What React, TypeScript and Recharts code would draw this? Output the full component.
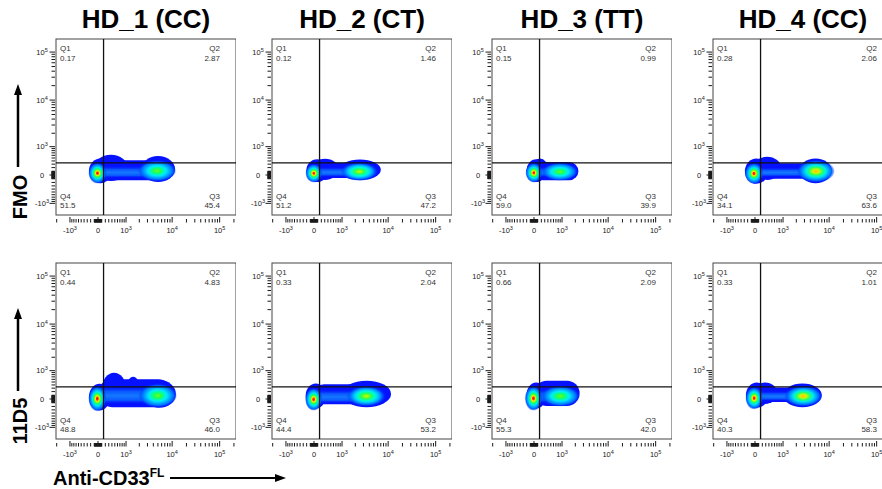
import React from 'react';
import { ComposedChart, XAxis, YAxis, ReferenceArea, ReferenceLine } from 'recharts';

// biexponential-like display transform (asinh, cofactor 550)
const COFACTOR = 550;
const T = (v: number) => Math.asinh(v / COFACTOR) / Math.LN10;

const DONORS = ['HD_1 (CC)', 'HD_2 (CT)', 'HD_3 (TT)', 'HD_4 (CC)'];
const STAINS = ['FMO', '11D5'];

// quadrant frequencies [Q1, Q2, Q3, Q4]
const FMO_QUADS = [
  ['0.17', '2.87', '45.4', '51.5'],
  ['0.12', '1.46', '47.2', '51.2'],
  ['0.15', '0.99', '39.9', '59.0'],
  ['0.28', '2.06', '63.6', '34.1'],
];
const D11D5_QUADS = [
  ['0.44', '4.83', '46.0', '48.8'],
  ['0.33', '2.04', '53.2', '44.4'],
  ['0.66', '2.09', '42.0', '55.3'],
  ['0.33', '1.01', '58.3', '40.3'],
];

const GATE_X = 150;
const GATE_Y = 340;

const MAJOR_TICKS = [-1000, 0, 1000, 10000, 100000];
const TICK_BASE = ['-10', '0', '10', '10', '10'];
const TICK_EXP = ['3', '', '3', '4', '5'];
const MINOR_MULT = [1, 2, 3, 4, 5, 6, 7, 8, 9];
const MINOR_DECADES = [10, 100, 1000, 10000, 100000];

// density regions: [kind, xLow, xHigh, yLow, yHigh] in fluorescence units
const HD1_FMO = [
  ['lobe', -250, 400, -220, 480],
  ['lobe', -110, 1110, -160, 620],
  ['bar', 0, 9000, -140, 420],
  ['lobe', 2200, 11500, -190, 570],
  ['mid', 0, 3900, -80, 250],
  ['neg', -260, 230, -230, 340],
  ['pos', 1900, 12000, -170, 420],
];
const HD2_FMO = [
  ['lobe', -210, 400, -190, 460],
  ['lobe', -80, 840, -130, 470],
  ['bar', 0, 1870, -80, 340],
  ['lobe', 850, 7000, -140, 450],
  ['mid', 0, 1450, -50, 220],
  ['neg', -230, 220, -200, 300],
  ['pos', 950, 6000, -150, 350],
];
const HD3_FMO = [
  ['lobe', -210, 340, -190, 455],
  ['lobe', -50, 400, -130, 485],
  ['bar', 0, 2330, -140, 365],
  ['mid', 0, 440, -50, 220],
  ['neg', -230, 220, -200, 330],
  ['pos', 220, 2250, -150, 340],
];
const HD4_FMO = [
  ['lobe', -280, 370, -240, 480],
  ['lobe', -50, 900, -130, 550],
  ['bar', 0, 8200, -100, 325],
  ['lobe', 2300, 11500, -220, 480],
  ['mid', 0, 3900, -50, 205],
  ['neg', -280, 220, -240, 330],
  ['pos', 2100, 13000, -200, 430],
];
const HD1_11D5 = [
  ['lobe', -250, 340, -320, 440],
  ['lobe', 110, 1000, -130, 890],
  ['lobe', 1000, 2100, -130, 710],
  ['bar', 0, 10000, -220, 600],
  ['lobe', 2400, 12000, -240, 570],
  ['mid', 0, 3400, -130, 370],
  ['neg', -260, 220, -340, 360],
  ['pos', 1950, 12500, -230, 440],
];
const HD2_11D5 = [
  ['lobe', -230, 340, -260, 450],
  ['bar', 0, 5000, -140, 420],
  ['lobe', 1000, 11500, -220, 550],
  ['mid', 0, 1870, -110, 260],
  ['neg', -240, 220, -320, 300],
  ['pos', 1300, 8800, -200, 370],
];
const HD3_11D5 = [
  ['lobe', -210, 340, -260, 480],
  ['bar', 0, 2480, -190, 550],
  ['mid', 0, 440, -110, 280],
  ['neg', -250, 220, -320, 360],
  ['pos', 200, 2450, -200, 370],
];
const HD4_11D5 = [
  ['lobe', -250, 370, -240, 480],
  ['lobe', -50, 710, -130, 485],
  ['bar', 0, 3080, -80, 320],
  ['lobe', 1000, 7000, -220, 450],
  ['mid', 0, 1700, -50, 220],
  ['neg', -260, 210, -280, 330],
  ['pos', 1100, 7000, -200, 370],
];

// peak density level of the CD33+ population
const FMO_PEAK = ['green', 'lime', 'green', 'yellow'];
const D11D5_PEAK = ['green', 'lime', 'green', 'yellow'];

const BLOBS = [
  [HD1_FMO, HD2_FMO, HD3_FMO, HD4_FMO],
  [HD1_11D5, HD2_11D5, HD3_11D5, HD4_11D5],
];
const QUADS = [FMO_QUADS, D11D5_QUADS];
const PEAKS = [FMO_PEAK, D11D5_PEAK];

const COL_LEFT = [56, 272, 492, 713];
const ROW_TOP = [39, 263];
const BOX_W = 180;
const X_DOMAIN: [number, number] = [-0.884, 2.905];
const Y_DOMAIN: [number, number] = [-0.833, 2.833];
const BLUE = '#0612ff';
const INK = '#1a1a1a';
const FONT = '"Liberation Sans", Arial, Helvetica, sans-serif';

function axisTicks(dom: [number, number]) {
  const vals: number[] = [...MAJOR_TICKS];
  MINOR_DECADES.forEach(d =>
    MINOR_MULT.forEach(m => {
      [m * d, -m * d].forEach(v => {
        if (!MAJOR_TICKS.includes(v)) vals.push(v);
      });
    })
  );
  return vals.map(T).filter(t => t >= dom[0] && t <= dom[1]);
}

const majorIndex = (t: number) => MAJOR_TICKS.findIndex(v => Math.abs(T(v) - t) < 1e-6);

const XTick = (p: any) => {
  const { x, y, payload } = p;
  const i = majorIndex(payload.value);
  const major = i >= 0;
  return (
    <g>
      <line x1={x} x2={x} y1={y + (major ? 2 : 4)} y2={y + 7.5} stroke={INK} strokeWidth={1} />
      {major && (
        <text x={x} y={y + 18} textAnchor="middle" fontSize={7.5} fill={INK}>
          {TICK_BASE[i]}
          {TICK_EXP[i] && <tspan dy={-3} fontSize={5.5}>{TICK_EXP[i]}</tspan>}
        </text>
      )}
    </g>
  );
};

const YTick = (p: any) => {
  const { x, y, payload } = p;
  const i = majorIndex(payload.value);
  const major = i >= 0;
  return (
    <g>
      <line x1={x - (major ? 6.5 : 4.5)} x2={x - 1} y1={y} y2={y} stroke={INK} strokeWidth={1} />
      {major && (
        <text x={x - 14} y={y + 2.5} textAnchor="middle" fontSize={7.5} fill={INK}>
          {TICK_BASE[i]}
          {TICK_EXP[i] && <tspan dy={-3} fontSize={5.5}>{TICK_EXP[i]}</tspan>}
        </text>
      )}
    </g>
  );
};

const blobShape = (kind: string, peak: string) => (p: any) => {
  const { x, y, width: w, height: h } = p;
  if (kind === 'bar') return <rect x={x} y={y} width={w} height={h} rx={h / 2} ry={h / 2} fill={BLUE} />;
  if (kind === 'mid') return <rect x={x} y={y} width={w} height={h} rx={h / 2} ry={h / 2} fill="url(#g-mid)" />;
  const fill = kind === 'lobe' ? BLUE : kind === 'neg' ? 'url(#g-red)' : `url(#g-${peak})`;
  return <ellipse cx={x + w / 2} cy={y + h / 2} rx={w / 2} ry={h / 2} fill={fill} />;
};

const boxShape = (q: string[]) => (p: any) => {
  const { x, y, width: w, height: h } = p;
  const t = { fontSize: 8, fill: '#333' };
  return (
    <g>
      <rect x={x} y={y} width={w} height={h} fill="none" stroke="#444" strokeWidth={1} />
      <text {...t} x={x + 4} y={y + 12}>Q1</text>
      <text {...t} x={x + 4} y={y + 22}>{q[0]}</text>
      <text {...t} x={x + w - 16} y={y + 12} textAnchor="end">Q2</text>
      <text {...t} x={x + w - 16} y={y + 22} textAnchor="end">{q[1]}</text>
      <text {...t} x={x + w - 16} y={y + h - 16} textAnchor="end">Q3</text>
      <text {...t} x={x + w - 16} y={y + h - 7} textAnchor="end">{q[2]}</text>
      <text {...t} x={x + 4} y={y + h - 16}>Q4</text>
      <text {...t} x={x + 4} y={y + h - 7}>{q[3]}</text>
    </g>
  );
};

function Panel({ blobs, quads, peak, left, top }: any) {
  return (
    <div style={{ position: 'absolute', left: left - 40, top: top - 5 }}>
      <ComposedChart width={220} height={206} margin={{ top: 5, right: 0, bottom: 0, left: 0 }}>
        <XAxis
          type="number"
          dataKey="x"
          domain={X_DOMAIN}
          allowDataOverflow
          ticks={axisTicks(X_DOMAIN)}
          interval={0}
          tick={XTick}
          tickSize={0}
          tickMargin={0}
          tickLine={false}
          axisLine={false}
          height={25}
        />
        <YAxis
          type="number"
          domain={Y_DOMAIN}
          allowDataOverflow
          ticks={axisTicks(Y_DOMAIN)}
          interval={0}
          tick={YTick}
          tickSize={0}
          tickMargin={0}
          tickLine={false}
          axisLine={false}
          width={40}
        />
        {blobs.map((b: any[], i: number) => (
          <ReferenceArea
            key={i}
            x1={T(b[1])}
            x2={T(b[2])}
            y1={T(b[3])}
            y2={T(b[4])}
            shape={blobShape(b[0], peak)}
          />
        ))}
        <ReferenceLine x={T(GATE_X)} stroke="#111" strokeWidth={1.3} />
        <ReferenceLine y={T(GATE_Y)} stroke="#111" strokeWidth={1.3} />
        <ReferenceArea x1={X_DOMAIN[0]} x2={X_DOMAIN[1]} y1={Y_DOMAIN[0]} y2={Y_DOMAIN[1]} shape={boxShape(quads)} />
      </ComposedChart>
    </div>
  );
}

const stop = (o: number, c: string, a = 1) => <stop key={o} offset={o} stopColor={c} stopOpacity={a} />;

export default function App() {
  return (
    <div
      style={{
        position: 'absolute',
        left: 0,
        top: 0,
        width: 882,
        height: 489,
        overflow: 'hidden',
        background: '#fff',
        fontFamily: FONT,
      }}
    >
      <svg width={0} height={0} style={{ position: 'absolute' }}>
        <defs>
          <radialGradient id="g-red">
            {[
              stop(0, '#ff0000'),
              stop(0.11, '#ff2a00'),
              stop(0.21, '#ffe800'),
              stop(0.32, '#70ff20'),
              stop(0.44, '#00ff80'),
              stop(0.56, '#00e8f0'),
              stop(0.7, '#00a8ff'),
              stop(0.86, '#0064ff'),
              stop(1, '#0030ff', 0.3),
            ]}
          </radialGradient>
          <radialGradient id="g-green">
            {[
              stop(0, '#70ff30'),
              stop(0.16, '#30ff40'),
              stop(0.32, '#00ffa0'),
              stop(0.48, '#00e8ff'),
              stop(0.64, '#00b0ff'),
              stop(0.82, '#0070ff'),
              stop(1, '#0030ff', 0.15),
            ]}
          </radialGradient>
          <radialGradient id="g-lime">
            {[
              stop(0, '#c8ff00'),
              stop(0.13, '#88ff10'),
              stop(0.28, '#20ff60'),
              stop(0.44, '#00ffc8'),
              stop(0.6, '#00d0ff'),
              stop(0.78, '#0080ff'),
              stop(1, '#0030ff', 0.15),
            ]}
          </radialGradient>
          <radialGradient id="g-yellow">
            {[
              stop(0, '#ff9000'),
              stop(0.09, '#ffe000'),
              stop(0.22, '#a0ff10'),
              stop(0.37, '#20ff70'),
              stop(0.52, '#00f0e0'),
              stop(0.67, '#00b0ff'),
              stop(0.84, '#0068ff'),
              stop(1, '#0030ff', 0.15),
            ]}
          </radialGradient>
          <linearGradient id="g-mid" x1="0" y1="0" x2="0" y2="1">
            {[
              stop(0, '#0020ff', 0),
              stop(0.3, '#0a58ff'),
              stop(0.55, '#1478ff'),
              stop(0.8, '#0a58ff'),
              stop(1, '#0020ff', 0),
            ]}
          </linearGradient>
        </defs>
      </svg>

      {STAINS.map((s, r) =>
        DONORS.map((d, c) => (
          <Panel
            key={s + d}
            blobs={BLOBS[r][c]}
            quads={QUADS[r][c]}
            peak={PEAKS[r][c]}
            left={COL_LEFT[c]}
            top={ROW_TOP[r]}
          />
        ))
      )}

      <svg width={882} height={489} style={{ position: 'absolute', left: 0, top: 0, pointerEvents: 'none' }}>
        {DONORS.map((d, c) => (
          <text key={d} x={COL_LEFT[c] + BOX_W / 2} y={28} textAnchor="middle" fontSize={26} fontWeight="bold" fill="#000">
            {d}
          </text>
        ))}
        {STAINS.map((s, r) => {
          const mid = ROW_TOP[r] + 158;
          const tip = ROW_TOP[r] + 45;
          const base = ROW_TOP[r] + 128;
          return (
            <g key={s}>
              <text
                x={27}
                y={mid}
                transform={`rotate(-90 27 ${mid})`}
                textAnchor="middle"
                fontSize={20}
                fontWeight="bold"
                fill="#000"
              >
                {s}
              </text>
              <line x1={18} x2={18} y1={base} y2={tip + 9} stroke="#000" strokeWidth={2.5} />
              <polygon points={`18,${tip} 14,${tip + 11} 22,${tip + 11}`} fill="#000" />
            </g>
          );
        })}
        <text x={53} y={485} fontSize={20} fontWeight="bold" fill="#000">
          Anti-CD33
          <tspan dy={-8} fontSize={12}>FL</tspan>
        </text>
        <line x1={170} x2={277} y1={478} y2={478} stroke="#000" strokeWidth={2} />
        <polygon points="286,478 275,474 275,482" fill="#000" />
      </svg>
    </div>
  );
}
